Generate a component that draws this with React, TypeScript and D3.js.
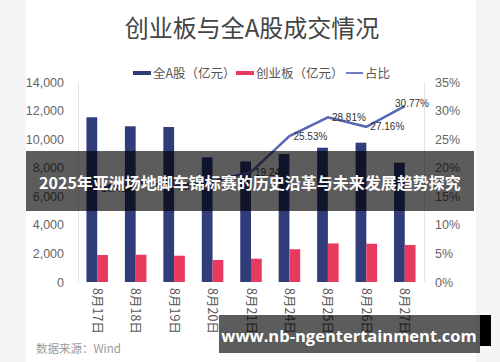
import React, { useEffect, useRef } from 'react';
import * as d3 from 'd3';

const dates = ['8月17日', '8月18日', '8月19日', '8月20日', '8月21日', '8月24日', '8月25日', '8月26日', '8月27日'];
const allA = [11530, 10900, 10850, 8730, 8440, 8960, 9400, 9750, 8350];
const gem = [1890, 1910, 1840, 1540, 1630, 2290, 2700, 2680, 2590];
const ratio = [16.43, 17.5, 16.81, 17.6, 19.24, 25.53, 28.81, 27.16, 30.77];
const ratioLabels = ['16.43%', null, '16.81%', null, '19.24%', '25.53%', '28.81%', '27.16%', '30.77%'];
const leftTicks = [0, 2000, 4000, 6000, 8000, 10000, 12000, 14000];
const rightTicks = [0, 5, 10, 15, 20, 25, 30, 35];

const CJK = '"Noto Sans CJK SC", sans-serif';
const LAT = '"Liberation Sans", Arial, sans-serif';

function App() {
    const chartRef = useRef<SVGSVGElement>(null);

    useEffect(() => {
        drawChart();
    }, []);

    const drawChart = () => {
        const svg = d3.select(chartRef.current);
        svg.selectAll('*').remove();

        // page + card
        svg.append('rect').attr('width', 500).attr('height', 362).attr('fill', '#f4f5f7');
        svg.append('rect').attr('x', 26).attr('y', 0).attr('width', 450).attr('height', 362).attr('fill', '#ffffff');

        svg.append('text')
            .attr('x', 252).attr('y', 37)
            .attr('text-anchor', 'middle')
            .style('font-family', CJK).style('font-size', '24px')
            .attr('fill', '#444')
            .text('创业板与全A股成交情况');

        // legend
        const lg = svg.append('g').style('font-family', CJK).style('font-size', '12.5px').attr('fill', '#555');
        lg.append('rect').attr('x', 133).attr('y', 71).attr('width', 18).attr('height', 4).attr('fill', '#2f3a78');
        lg.append('text').attr('x', 153).attr('y', 77.5).text('全A股（亿元）');
        lg.append('rect').attr('x', 236).attr('y', 71).attr('width', 18).attr('height', 4).attr('fill', '#e83a5e');
        lg.append('text').attr('x', 256).attr('y', 77.5).text('创业板（亿元）');
        lg.append('line').attr('x1', 346).attr('x2', 363).attr('y1', 73).attr('y2', 73).attr('stroke', '#6f7cc4').attr('stroke-width', 2);
        lg.append('text').attr('x', 365).attr('y', 77.5).text('占比');

        const x = d3.scaleBand<string>()
            .domain(dates)
            .range([78, 424])
            .paddingInner(0.44)
            .paddingOuter(0.22);
        const x1 = d3.scaleBand<string>()
            .domain(['a', 'g'])
            .range([0, x.bandwidth()]);
        const yL = d3.scaleLinear().domain([0, 14000]).range([282, 82]);
        const yR = d3.scaleLinear().domain([0, 35]).range([282, 82]);

        // axis lines
        svg.append('line').attr('x1', 78.5).attr('x2', 78.5).attr('y1', 82).attr('y2', 282).attr('stroke', '#e4e4e4');
        svg.append('line').attr('x1', 424.5).attr('x2', 424.5).attr('y1', 82).attr('y2', 282).attr('stroke', '#e4e4e4');

        svg.append('g')
            .selectAll('text')
            .data(leftTicks)
            .enter().append('text')
            .attr('x', 64).attr('y', d => yL(d)).attr('dy', '0.36em')
            .attr('text-anchor', 'end')
            .style('font-family', LAT).style('font-size', '12.5px')
            .attr('fill', '#666')
            .text(d => d3.format(',')(d));

        svg.append('g')
            .selectAll('text')
            .data(rightTicks)
            .enter().append('text')
            .attr('x', 435).attr('y', d => yR(d)).attr('dy', '0.36em')
            .style('font-family', LAT).style('font-size', '12.5px')
            .attr('fill', '#666')
            .text(d => d + '%');

        svg.append('g')
            .selectAll('text')
            .data(dates)
            .enter().append('text')
            .attr('transform', d => `translate(${x(d)! + x.bandwidth() / 2},288) rotate(90)`)
            .attr('dy', '0.36em')
            .style('font-family', CJK).style('font-size', '12.5px')
            .attr('fill', '#555')
            .text(d => d);

        svg.selectAll('.barA')
            .data(allA)
            .enter().append('rect')
            .attr('x', (d, i) => x(dates[i])! + x1('a')!)
            .attr('y', d => yL(d))
            .attr('width', x1.bandwidth())
            .attr('height', d => yL(0) - yL(d))
            .attr('fill', '#313c7a');

        svg.selectAll('.barG')
            .data(gem)
            .enter().append('rect')
            .attr('x', (d, i) => x(dates[i])! + x1('g')!)
            .attr('y', d => yL(d))
            .attr('width', x1.bandwidth())
            .attr('height', d => yL(0) - yL(d))
            .attr('fill', '#e83a5e');

        const cx = (i: number) => x(dates[i])! + x.bandwidth() / 2;
        const line = d3.line<number>()
            .x((d, i) => cx(i))
            .y(d => yR(d));

        svg.append('path')
            .datum(ratio)
            .attr('d', line)
            .attr('fill', 'none')
            .attr('stroke', '#5a67b4')
            .attr('stroke-width', 2.5);

        // point labels (8/18 and 8/20 have none in the source)
        const labelled = ratioLabels
            .map((t, i) => ({ t, i }))
            .filter(d => d.t !== null);

        svg.append('g')
            .selectAll('text')
            .data(labelled)
            .enter().append('text')
            .attr('x', d => Math.min(cx(d.i) + 21, 412))
            .attr('y', d => yR(ratio[d.i]) - (d.i === ratio.length - 1 ? 3 : 0))
            .attr('dy', '0.36em')
            .attr('text-anchor', 'middle')
            .style('font-family', LAT).style('font-size', '10px')
            .attr('fill', '#333')
            .text(d => d.t as string);

        svg.append('text')
            .attr('x', 36).attr('y', 353)
            .style('font-family', CJK).style('font-size', '11.5px')
            .attr('fill', '#9a9a9a')
            .text('数据来源：Wind');

        // overlays
        svg.append('rect').attr('x', 26).attr('y', 151).attr('width', 448).attr('height', 60).attr('fill', 'rgba(0,0,0,0.64)');
        svg.append('text')
            .attr('x', 250).attr('y', 183).attr('dy', '0.36em')
            .attr('text-anchor', 'middle')
            .style('font-family', CJK).style('font-size', '16px').style('font-weight', 700)
            .attr('fill', '#fff')
            .text('2025年亚洲场地脚车锦标赛的历史沿革与未来发展趋势探究');

        svg.append('rect').attr('x', 480).attr('y', 315).attr('width', 11).attr('height', 31).attr('fill', '#000');
        svg.append('rect').attr('x', 219).attr('y', 315).attr('width', 261).attr('height', 38).attr('fill', 'rgba(0,0,0,0.64)');
        svg.append('text')
            .attr('x', 349).attr('y', 336).attr('dy', '0.36em')
            .attr('text-anchor', 'middle')
            .style('font-family', '"Open Sans", "Noto Sans", sans-serif').style('font-size', '16.5px').style('font-weight', 700)
            .attr('fill', '#fff')
            .text('www.nb-ngentertainment.com');
    };

    return (
        <svg ref={chartRef} width={500} height={362} style={{ position: 'absolute', left: 0, top: 0 }}></svg>
    );
}

export default App;
